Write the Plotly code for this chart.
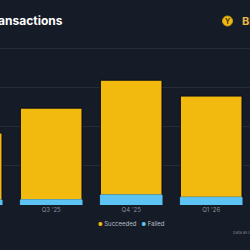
import plotly.graph_objects as go

quarters = ["Q2 '25", "Q3 '25", "Q4 '25", "Q1 '26"]
succeeded = [853, 1168, 1462, 1290]   # millions
failed = [64, 66, 128, 98]            # millions

BG = "#151b27"
YEL = "#f2b90f"
BLU = "#5cc3f2"
EDGE = "#0b0f16"

W, H = 250, 250
T, B = 40, 45
PH = H - T - B


def py(p):
    return (H - B - p) / PH


fig = go.Figure()
fig.add_bar(x=quarters, y=succeeded, base=failed, name="Succeeded",
            marker=dict(color=YEL, line=dict(color=EDGE, width=1)))
fig.add_bar(x=quarters, y=failed, name="Failed",
            marker=dict(color=BLU, line=dict(color=BLU, width=1)))

fig.update_layout(
    width=W, height=H,
    margin=dict(l=0, r=0, t=T, b=B),
    paper_bgcolor=BG, plot_bgcolor=BG,
    barmode="overlay", bargap=0.23,
    showlegend=False,
    font=dict(family="Inter, Open Sans, sans-serif", color="#8b909a"),
    xaxis=dict(range=[0.36, 3.485], showgrid=False, zeroline=False, showline=False,
               tickfont=dict(size=6, color="#8b909a"), ticks=""),
    yaxis=dict(range=[0, 2102], dtick=500, showgrid=True, gridcolor="#252b37", gridwidth=1,
               zeroline=False, showticklabels=False, showline=False),
)

annots = [
    dict(text="<b>Transactions</b>", x=-16 / W, y=py(20.5), xref="paper", yref="paper",
         xanchor="left", yanchor="middle", showarrow=False,
         font=dict(size=12, color="#ffffff", family="Inter")),
    dict(text="<b>BNB Chain</b>", x=239.5 / W, y=py(21), xref="paper", yref="paper",
         xanchor="left", yanchor="middle", showarrow=False,
         font=dict(size=11, color="#e9b949", family="Inter")),
    dict(text="<b>Y</b>", x=227.5 / W, y=py(21.5), xref="paper", yref="paper",
         xanchor="center", yanchor="middle", showarrow=False,
         font=dict(size=7, color="#3a2e08", family="Inter")),
    dict(text=f"<span style='color:{YEL};font-size:5px'>●</span> Succeeded   <span style='color:{BLU};font-size:5px'>●</span> Failed",
         x=131 / W, y=py(223), xref="paper", yref="paper", xanchor="center", yanchor="middle",
         showarrow=False, font=dict(size=6, color="#b9bdc6", family="Inter")),
    dict(text="Data as of Apr 2026", x=231 / W, y=py(232), xref="paper", yref="paper",
         xanchor="left", yanchor="middle", showarrow=False,
         font=dict(size=4, color="#7d828c", family="Inter")),
]
fig.update_layout(annotations=annots)

fig.add_shape(type="circle", xref="paper", yref="paper",
              x0=222.5 / W, x1=232.5 / W, y0=py(26), y1=py(16),
              fillcolor=YEL, line=dict(color="#c99a10", width=1))

fig.write_html("out.html")
